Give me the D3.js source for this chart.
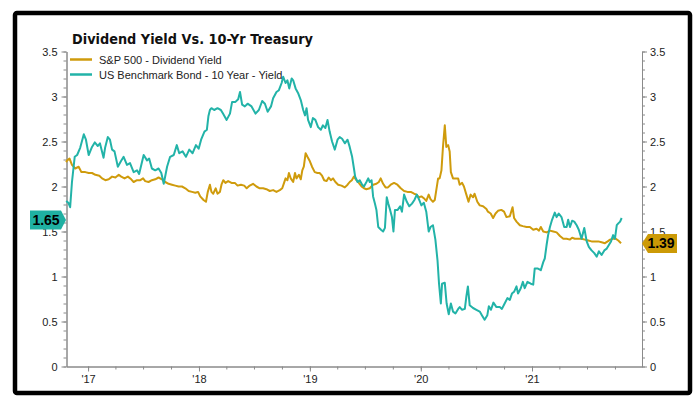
<!doctype html>
<html>
<head>
<meta charset="utf-8" />
<title>Dividend Yield Vs. 10-Yr Treasury</title>
<script src="https://cdn.jsdelivr.net/npm/d3@7/dist/d3.min.js"></script>
<style>
	body { margin: 0; background: #fff; }
	svg { display: block; font-family: "Liberation Sans", Arial, sans-serif; }
	.axis path, .axis line { stroke: #8a8a8a; }
	.axis text { fill: #222; font-size: 11px; font-family: "Liberation Sans", Arial, sans-serif; }
</style>
</head>
<body>
<div id="app"></div>
<script>
const title = 'Dividend Yield Vs. 10-Yr Treasury';
const seriesNames = ['S&P 500 - Dividend Yield', 'US Benchmark Bond - 10 Year - Yield'];
const seriesColors = ['#cf9b0c', '#22b3a8'];
const yTicks = [0, 0.5, 1, 1.5, 2, 2.5, 3, 3.5];
const lastLabels = ['1.39', '1.65'];

const divDates = ['2016-10-21','2016-10-24','2016-11-01','2016-11-09','2016-11-20','2016-12-01','2016-12-10','2016-12-23',
	'2017-01-03','2017-01-14','2017-01-25','2017-02-07','2017-02-16','2017-02-27','2017-03-10','2017-03-21','2017-04-01','2017-04-12',
	'2017-04-20','2017-05-01','2017-05-12','2017-05-23','2017-05-31','2017-06-11','2017-06-22','2017-07-01','2017-07-08','2017-07-19',
	'2017-07-30','2017-08-10','2017-08-21','2017-09-01','2017-09-12','2017-09-23','2017-10-04','2017-10-15','2017-10-26','2017-11-06',
	'2017-11-17','2017-11-28','2017-12-09','2017-12-20','2017-12-29',
	'2018-01-05','2018-01-16','2018-01-24','2018-01-30','2018-02-06','2018-02-11','2018-02-17','2018-02-25','2018-03-03','2018-03-11',
	'2018-03-16','2018-03-22','2018-03-29','2018-04-07','2018-04-18','2018-04-29','2018-05-08','2018-05-19','2018-05-30','2018-06-07',
	'2018-06-17','2018-06-28','2018-07-09','2018-07-20','2018-07-31','2018-08-11','2018-08-22','2018-09-02','2018-09-13','2018-09-24',
	'2018-10-02','2018-10-08','2018-10-13','2018-10-19','2018-10-24','2018-10-30','2018-11-07','2018-11-13','2018-11-18','2018-11-26',
	'2018-12-02','2018-12-07','2018-12-12','2018-12-18','2018-12-24',
	'2019-01-01','2019-01-08','2019-01-17','2019-01-26','2019-02-02','2019-02-10','2019-02-17','2019-02-25','2019-03-04','2019-03-11',
	'2019-03-18','2019-03-26','2019-04-04','2019-04-15','2019-04-26','2019-05-05','2019-05-12','2019-05-19','2019-05-26','2019-06-03',
	'2019-06-11','2019-06-20','2019-06-28','2019-07-06','2019-07-17','2019-07-28','2019-08-08','2019-08-16','2019-08-22','2019-08-30',
	'2019-09-07','2019-09-15','2019-09-24','2019-10-05','2019-10-16','2019-10-27','2019-11-07','2019-11-18','2019-11-29','2019-12-10',
	'2019-12-18','2019-12-26',
	'2020-01-03','2020-01-11','2020-01-19','2020-01-27','2020-02-02','2020-02-10','2020-02-16','2020-02-21','2020-02-27','2020-03-03',
	'2020-03-09','2020-03-14','2020-03-20','2020-03-25','2020-03-31','2020-04-05','2020-04-09','2020-04-16','2020-04-24','2020-05-03',
	'2020-05-08','2020-05-16','2020-05-22','2020-05-30','2020-06-06','2020-06-13','2020-06-21','2020-06-26','2020-07-05','2020-07-13',
	'2020-07-24','2020-08-04','2020-08-09','2020-08-18','2020-08-26','2020-09-03','2020-09-11','2020-09-22','2020-10-01','2020-10-09',
	'2020-10-20','2020-10-29','2020-11-03','2020-11-11','2020-11-22','2020-12-02','2020-12-14','2020-12-25',
	'2021-01-05','2021-01-16','2021-01-24','2021-01-30','2021-02-07','2021-02-18','2021-03-01','2021-03-12','2021-03-23','2021-04-03',
	'2021-04-14','2021-04-25','2021-05-06','2021-05-13','2021-05-22','2021-06-02','2021-06-13','2021-06-24','2021-07-05','2021-07-16',
	'2021-07-27','2021-08-07','2021-08-18','2021-08-29','2021-09-07','2021-09-15','2021-09-25','2021-10-03','2021-10-12','2021-10-21'];
const divValues = [2.27,2.29,2.31,2.24,2.20,2.22,2.16,2.16,
	2.15,2.15,2.13,2.12,2.09,2.07,2.08,2.11,2.10,2.13,
	2.11,2.09,2.11,2.08,2.05,2.07,2.07,2.09,2.06,2.05,
	2.07,2.08,2.10,2.08,2.05,2.03,2.02,2.01,2.00,2.00,
	1.98,1.95,1.94,1.93,1.94,
	1.89,1.85,1.83,1.94,2.02,1.94,1.92,1.98,1.92,1.94,
	2.02,2.07,2.04,2.06,2.04,2.04,2.01,2.02,2.01,1.98,
	2.01,2.03,2.00,1.98,1.98,1.97,1.95,1.96,1.94,1.96,
	1.98,2.04,2.09,2.07,2.15,2.09,2.05,2.15,2.09,2.13,
	2.08,2.18,2.22,2.37,2.33,
	2.28,2.22,2.16,2.15,2.15,2.12,2.07,2.06,2.10,2.07,
	2.09,2.05,2.02,2.01,1.99,2.02,2.05,2.07,2.11,2.07,
	2.04,2.00,1.98,1.97,1.98,2.02,2.03,2.05,2.09,2.03,
	1.99,1.99,2.02,2.04,2.02,1.98,1.95,1.94,1.94,1.92,
	1.91,1.88,
	1.89,1.87,1.84,1.91,1.86,1.83,1.85,1.96,2.09,2.09,
	2.18,2.44,2.68,2.44,2.46,2.39,2.16,2.09,2.09,2.09,
	2.02,2.04,2.00,1.91,1.83,1.91,1.88,1.92,1.83,1.79,
	1.78,1.75,1.72,1.70,1.65,1.70,1.73,1.74,1.72,1.66,
	1.67,1.77,1.65,1.61,1.57,1.56,1.55,1.55,
	1.52,1.53,1.51,1.55,1.50,1.49,1.51,1.50,1.49,1.45,
	1.42,1.42,1.41,1.43,1.42,1.42,1.42,1.41,1.40,1.39,
	1.39,1.39,1.38,1.37,1.39,1.41,1.42,1.42,1.40,1.37];

const tsyDates = ['2016-10-21','2016-10-28','2016-11-03','2016-11-09','2016-11-18','2016-11-26','2016-12-06','2016-12-18','2016-12-25',
	'2017-01-03','2017-01-14','2017-01-23','2017-02-02','2017-02-09','2017-02-21','2017-02-26','2017-03-07','2017-03-14','2017-03-21',
	'2017-03-29','2017-04-09','2017-04-19','2017-04-28','2017-05-09','2017-05-19','2017-05-31','2017-06-11','2017-06-18','2017-07-03',
	'2017-07-14','2017-07-21','2017-07-30','2017-08-10','2017-08-21','2017-08-30','2017-09-07','2017-09-18','2017-09-28','2017-10-10',
	'2017-10-20','2017-10-28','2017-11-08','2017-11-19','2017-11-30','2017-12-11','2017-12-22','2017-12-31',
	'2018-01-08','2018-01-19','2018-01-27','2018-02-01','2018-02-06','2018-02-11','2018-02-20','2018-03-03','2018-03-14','2018-03-21',
	'2018-04-02','2018-04-13','2018-04-20','2018-05-01','2018-05-10','2018-05-16','2018-05-23','2018-06-01','2018-06-10','2018-06-23',
	'2018-07-06','2018-07-17','2018-07-28','2018-08-06','2018-08-15','2018-08-26','2018-09-02','2018-09-13','2018-09-21','2018-09-30',
	'2018-10-05','2018-10-13','2018-10-19','2018-10-25','2018-11-02','2018-11-07','2018-11-15','2018-11-23','2018-12-02','2018-12-10',
	'2018-12-16','2018-12-21','2018-12-26',
	'2019-01-04','2019-01-11','2019-01-19','2019-01-28','2019-02-06','2019-02-13','2019-02-21','2019-02-28','2019-03-07','2019-03-15',
	'2019-03-24','2019-04-02','2019-04-09','2019-04-17','2019-04-26','2019-05-05','2019-05-12','2019-05-20','2019-05-26','2019-05-30',
	'2019-06-07','2019-06-14','2019-06-22','2019-06-28','2019-07-06','2019-07-12','2019-07-17','2019-07-23','2019-07-28','2019-08-03',
	'2019-08-08','2019-08-14','2019-08-23','2019-08-30','2019-09-05','2019-09-11','2019-09-16','2019-09-22','2019-09-28','2019-10-03',
	'2019-10-08','2019-10-17','2019-10-25','2019-10-31','2019-11-07','2019-11-16','2019-11-24','2019-12-03','2019-12-11','2019-12-19',
	'2019-12-27',
	'2020-01-03','2020-01-11','2020-01-19','2020-01-27','2020-02-02','2020-02-10','2020-02-18','2020-02-25','2020-03-01','2020-03-07',
	'2020-03-11','2020-03-20','2020-03-26','2020-04-02','2020-04-09','2020-04-16','2020-04-24','2020-05-03','2020-05-08','2020-05-16',
	'2020-05-25','2020-05-30','2020-06-04','2020-06-10','2020-06-21','2020-07-02','2020-07-13','2020-07-20','2020-07-29','2020-08-07',
	'2020-08-12','2020-08-19','2020-08-27','2020-09-06','2020-09-17','2020-09-24','2020-10-03','2020-10-12','2020-10-20','2020-10-27',
	'2020-11-03','2020-11-11','2020-11-16','2020-11-25','2020-12-02','2020-12-08','2020-12-17','2020-12-28',
	'2021-01-05','2021-01-10','2021-01-19','2021-01-30','2021-02-07','2021-02-12','2021-02-18','2021-02-23','2021-03-01','2021-03-08',
	'2021-03-17','2021-03-23','2021-03-30','2021-04-08','2021-04-17','2021-04-25','2021-04-30','2021-05-06','2021-05-13','2021-05-20',
	'2021-05-28','2021-06-04','2021-06-13','2021-06-22','2021-06-30','2021-07-07','2021-07-16','2021-07-25','2021-08-02','2021-08-09',
	'2021-08-18','2021-08-27','2021-09-04','2021-09-11','2021-09-18','2021-09-25','2021-10-01','2021-10-07','2021-10-12','2021-10-18',
	'2021-10-23'];
const tsyValues = [1.84,1.82,1.77,2.05,2.33,2.35,2.43,2.58,2.52,
	2.35,2.44,2.49,2.45,2.48,2.32,2.43,2.55,2.52,2.41,
	2.39,2.22,2.28,2.33,2.24,2.26,2.16,2.18,2.14,2.35,
	2.29,2.31,2.20,2.18,2.20,2.15,2.03,2.22,2.33,2.35,
	2.46,2.37,2.39,2.33,2.41,2.37,2.46,2.42,
	2.52,2.61,2.63,2.78,2.85,2.87,2.85,2.87,2.85,2.81,
	2.74,2.81,2.94,2.94,2.97,3.05,2.91,2.89,2.92,2.89,
	2.81,2.85,2.95,2.92,2.83,2.89,2.98,3.05,3.07,3.15,
	3.22,3.15,3.18,3.09,3.20,3.18,3.09,3.04,2.96,2.85,
	2.79,2.87,2.74,
	2.66,2.76,2.74,2.66,2.63,2.68,2.65,2.74,2.61,2.50,
	2.41,2.52,2.55,2.53,2.48,2.52,2.44,2.33,2.20,2.11,
	2.05,2.07,2.02,2.00,2.05,2.09,2.05,2.07,1.89,1.81,
	1.74,1.55,1.52,1.50,1.54,1.88,1.81,1.74,1.66,1.50,
	1.74,1.74,1.78,1.72,1.91,1.83,1.78,1.81,1.85,1.91,
	1.85,
	1.79,1.82,1.72,1.50,1.55,1.57,1.41,1.18,0.92,0.70,
	0.92,0.93,0.70,0.58,0.70,0.61,0.59,0.64,0.66,0.63,
	0.64,0.78,0.89,0.68,0.65,0.63,0.61,0.57,0.52,0.57,
	0.67,0.63,0.71,0.66,0.66,0.64,0.70,0.76,0.74,0.81,
	0.83,0.89,0.81,0.87,0.94,0.87,0.94,0.92,
	0.91,1.09,1.09,1.07,1.16,1.20,1.35,1.46,1.55,1.63,
	1.71,1.66,1.70,1.66,1.55,1.55,1.63,1.55,1.62,1.61,
	1.57,1.52,1.42,1.54,1.39,1.33,1.29,1.26,1.22,1.28,
	1.24,1.29,1.31,1.35,1.39,1.46,1.42,1.57,1.59,1.61,
	1.65];

const W = 697, H = 397;
const parse = d3.timeParse('%Y-%m-%d');

const svg = d3.select('#app').append('svg').attr('width', W).attr('height', H);

const x = d3.scaleTime()
	.domain([parse('2016-10-22'), parse('2021-12-29')])
	.range([66.5, 642]);
const y = d3.scaleLinear().domain([0, 3.5]).range([366.5, 51.5]);

// outer frame
svg.append('rect')
	.attr('x', 15).attr('y', 13).attr('width', 675).attr('height', 380)
	.attr('rx', 2)
	.attr('fill', 'none').attr('stroke', '#000').attr('stroke-width', 4.5);

// minor ticks
const minorY = d3.range(0, 36).map(i => i / 10);
svg.append('g').attr('class', 'axis').attr('transform', 'translate(66.5,0)')
	.call(d3.axisLeft(y).tickValues(minorY).tickSize(3).tickFormat('').tickSizeOuter(0));
svg.append('g').attr('class', 'axis').attr('transform', 'translate(642,0)')
	.call(d3.axisRight(y).tickValues(minorY).tickSize(3).tickFormat('').tickSizeOuter(0));
svg.append('g').attr('class', 'axis').attr('transform', 'translate(0,366.5)')
	.call(d3.axisBottom(x).ticks(d3.timeMonth.every(3)).tickSize(3).tickFormat('').tickSizeOuter(0));

const yFmt = d3.format('~g');
svg.append('g').attr('class', 'axis').attr('transform', 'translate(66.5,0)')
	.call(d3.axisLeft(y).tickValues(yTicks).tickFormat(yFmt).tickSize(5).tickPadding(4).tickSizeOuter(0));
svg.append('g').attr('class', 'axis').attr('transform', 'translate(642,0)')
	.call(d3.axisRight(y).tickValues(yTicks).tickFormat(yFmt).tickSize(5).tickPadding(3).tickSizeOuter(0));
svg.append('g').attr('class', 'axis').attr('transform', 'translate(0,366.5)')
	.call(d3.axisBottom(x).ticks(d3.timeYear.every(1)).tickFormat(d3.timeFormat("'%y")).tickSize(5).tickPadding(4).tickSizeOuter(0));

const line = d3.line().x(d => x(d[0])).y(d => y(d[1]));
const divData = divDates.map((d, i) => [parse(d), divValues[i]]);
const tsyData = tsyDates.map((d, i) => [parse(d), tsyValues[i]]);

svg.append('path').datum(divData).attr('d', line)
	.attr('fill', 'none').attr('stroke', seriesColors[0]).attr('stroke-width', 2).attr('stroke-linejoin', 'round');
svg.append('path').datum(tsyData).attr('d', line)
	.attr('fill', 'none').attr('stroke', seriesColors[1]).attr('stroke-width', 2).attr('stroke-linejoin', 'round');

// title + legend
svg.append('text').attr('x', 72).attr('y', 43.5)
	.attr('font-family', '"DejaVu Sans", Verdana, sans-serif').attr('font-weight', 'bold').attr('font-size', 14)
	.attr('textLength', 241).attr('lengthAdjust', 'spacingAndGlyphs')
	.attr('fill', '#111').text(title);

seriesNames.forEach((name, i) => {
	const ly = 59.5 + i * 15;
	svg.append('line').attr('x1', 70).attr('x2', 92).attr('y1', ly).attr('y2', ly)
		.attr('stroke', seriesColors[i]).attr('stroke-width', 2.5);
	svg.append('text').attr('x', 99).attr('y', ly + 4).attr('font-size', 11).attr('fill', '#222').text(name);
});

// last value tags
function tag(value, text, color, side) {
	const cy = y(+value) + 2;
	const h = 19;
	let pts;
	if (side === 'left') {
		pts = [[30, cy - h / 2], [61, cy - h / 2], [66, cy], [61, cy + h / 2], [30, cy + h / 2]];
	} else {
		pts = [[642, cy], [648, cy - h / 2], [677, cy - h / 2], [677, cy + h / 2], [648, cy + h / 2]];
	}
	svg.append('polygon').attr('points', pts.map(p => p.join(',')).join(' ')).attr('fill', color);
	svg.append('text').attr('x', side === 'left' ? 46 : 661).attr('y', cy + 5)
		.attr('text-anchor', 'middle').attr('font-weight', 'bold').attr('font-size', 14)
		.attr('fill', '#000').text(text);
}
tag(lastLabels[1], lastLabels[1], '#1fb0a2', 'left');
tag(lastLabels[0], lastLabels[0], '#cc9a06', 'right');
</script>
</body>
</html>
